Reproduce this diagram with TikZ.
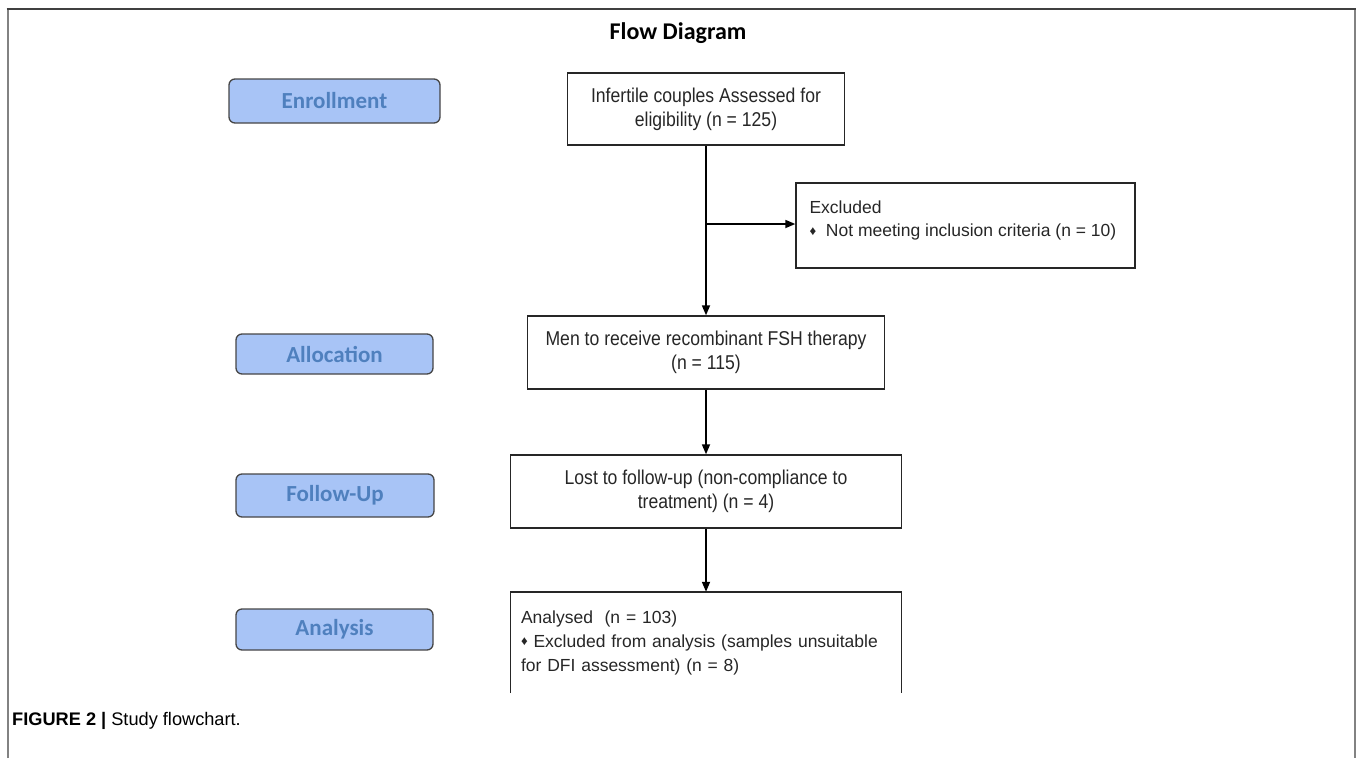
\documentclass[tikz,border=0pt]{standalone}
\usepackage{fontspec}
\setmainfont{Liberation Sans}
\newfontfamily\labfont{Carlito}
\newfontfamily\boxfont[FakeStretch=0.88]{Liberation Sans}
\usepackage{tikz}
\usetikzlibrary{arrows,arrows.meta,shapes.geometric}
\usepackage{xcolor}
\definecolor{phasefill}{RGB}{168,196,246}
\definecolor{phasetext}{RGB}{79,128,190}
\definecolor{phaseline}{RGB}{70,70,70}
\definecolor{frametop}{RGB}{64,64,64}
\definecolor{frameside}{RGB}{130,130,130}
\newcommand{\dmd}{\raisebox{1.2pt}{\scalebox{0.75}{♦}}}

\begin{document}
\begin{tikzpicture}[x=1pt, y=-1pt,
		phase/.style = {draw = phaseline, fill = phasefill, line width = 1.3pt, rounded corners = 6pt,
			text = phasetext, inner sep = 0pt, font = \labfont\bfseries\fontsize{23}{28}\selectfont},
		stage/.style = {draw = black!85, line width = 1.4pt, inner sep = 0pt, align = center,
			text = black!85, font = \boxfont\fontsize{20}{24}\selectfont},
		plain/.style = {text = black!85, inner sep = 0pt, align = left,
			font = \fontsize{17.5}{24}\selectfont},
		arr/.style = {-{Triangle[length = 10pt, width = 8pt]}, line width = 1.7pt}]
		\useasboundingbox (0,0) rectangle (1357,758);
		% frame
		\draw[frameside, line width = 2pt] (7.5,758) -- (7.5,8.5);
		\draw[frameside, line width = 2pt] (1355,8.5) -- (1355,758);
		\draw[frametop, line width = 2pt] (6.5,8.5) -- (1356,8.5);
		\node[font = \labfont\bfseries\fontsize{24}{28}\selectfont] (title) at (678,33.5) {Flow Diagram};
		% phases
		\node[phase, minimum width = 211pt, minimum height = 44pt] (enr) at (334.5,101) {Enrollment};
		\node[phase, minimum width = 197pt, minimum height = 40pt] (alloc) at (334.5,354) {Allocation};
		\node[phase, minimum width = 198pt, minimum height = 43pt] (fup) at (335,495.5) {Follow-Up};
		\node[phase, minimum width = 197pt, minimum height = 41pt] (anal) at (334.5,629.5) {Analysis};
		% boxes
		\node[stage, minimum width = 277pt, minimum height = 72pt] (assess) at (706,109)
			{Infertile couples Assessed for\\eligibility (n = 125)};
		\node[stage, minimum width = 339pt, minimum height = 85pt] (excl) at (965.5,225.5) {};
		\node[plain, anchor = west, xshift = 14pt, yshift = 5pt] (excltxt) at (excl.west)
			{Excluded\\[-1pt]\dmd\ \ Not meeting inclusion criteria (n = 10)};
		\node[stage, minimum width = 357pt, minimum height = 73pt] (recv) at (706,352.5)
			{Men to receive recombinant FSH therapy\\(n = 115)};
		\node[stage, minimum width = 391pt, minimum height = 73pt] (lost) at (706,491.5)
			{Lost to follow-up (non-compliance to\\treatment) (n = 4)};
		\node[plain, text width = 370pt, inner xsep = 10.5pt, minimum height = 101pt] (ana) at (706,642.5)
			{Analysed\ \ (n = 103)\\\dmd\ Excluded from analysis (samples unsuitable\\for DFI assessment) (n = 8)};
		\draw[black!85, line width = 1.4pt] (ana.south west) -- (ana.north west) -- (ana.north east) -- (ana.south east);
		% arrows
		\coordinate (fork) at ([yshift = 1.5pt] assess.south |- excl.west);
		\draw [arr] (assess.south) -- (recv.north);
		\draw [arr] (fork) -- (fork -| excl.west);
		\draw [arr] (recv.south) -- (lost.north);
		\draw [arr] (lost.south) -- (ana.north);
		% caption
		\node[anchor = west, inner sep = 0pt, font = \fontsize{18.2}{22}\selectfont] (cap) at (12,721)
			{\textbf{FIGURE 2 |} Study flowchart.};
	\end{tikzpicture}
\end{document}
